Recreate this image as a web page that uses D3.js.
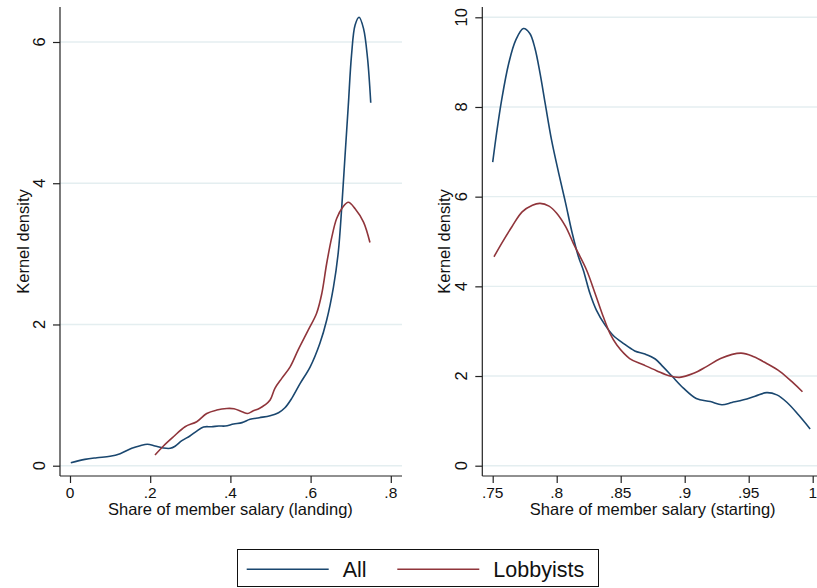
<!DOCTYPE html>
<html>
<head>
<meta charset="utf-8">
<script src="https://cdn.jsdelivr.net/npm/d3@7"></script>
<style>
  html, body { margin: 0; padding: 0; background: #fff; }
  svg { display: block; font-family: "Liberation Sans", Arial, Helvetica, sans-serif; }
</style>
</head>
<body>
<svg id="chart" width="817" height="588"></svg>
<script>
// Kernel density estimates: share of member salary (landing)
const landingAllX = [0.002, 0.037, 0.067, 0.1, 0.125, 0.154, 0.175, 0.193, 0.212, 0.233, 0.25, 0.262, 0.279, 0.299, 0.316, 0.333, 0.353, 0.371, 0.387, 0.408, 0.429, 0.449, 0.472, 0.499, 0.52, 0.536, 0.553, 0.574, 0.599, 0.623, 0.64, 0.657, 0.669, 0.678, 0.686, 0.694, 0.702, 0.711, 0.721, 0.732, 0.742, 0.75];
const landingAllY = [0.042, 0.09, 0.113, 0.133, 0.17, 0.246, 0.283, 0.303, 0.279, 0.25, 0.246, 0.275, 0.354, 0.42, 0.49, 0.548, 0.552, 0.562, 0.562, 0.59, 0.61, 0.657, 0.68, 0.708, 0.75, 0.82, 0.954, 1.166, 1.4, 1.73, 2.06, 2.53, 3.02, 3.69, 4.4, 5.1, 5.81, 6.24, 6.35, 6.19, 5.77, 5.14];
const landingLobX = [0.212, 0.233, 0.258, 0.287, 0.316, 0.341, 0.366, 0.391, 0.409, 0.429, 0.443, 0.456, 0.472, 0.486, 0.499, 0.511, 0.528, 0.549, 0.569, 0.594, 0.615, 0.628, 0.64, 0.653, 0.665, 0.68, 0.694, 0.711, 0.732, 0.748];
const landingLobY = [0.151, 0.279, 0.41, 0.552, 0.623, 0.74, 0.788, 0.81, 0.806, 0.764, 0.74, 0.774, 0.81, 0.86, 0.93, 1.095, 1.237, 1.4, 1.64, 1.92, 2.16, 2.44, 2.86, 3.24, 3.5, 3.66, 3.73, 3.64, 3.45, 3.16];

// Kernel density estimates: share of member salary (starting)
const startingAllX = [0.75, 0.753, 0.757, 0.7625, 0.768, 0.774, 0.779, 0.783, 0.787, 0.791, 0.796, 0.8016, 0.807, 0.812, 0.817, 0.8208, 0.826, 0.831, 0.8377, 0.844, 0.852, 0.861, 0.869, 0.877, 0.883, 0.89, 0.899, 0.909, 0.92, 0.929, 0.937, 0.946, 0.955, 0.964, 0.972, 0.98, 0.989, 0.998];
const startingAllY = [6.77, 7.41, 8.16, 8.97, 9.49, 9.75, 9.64, 9.31, 8.75, 8.08, 7.26, 6.52, 5.85, 5.2, 4.66, 4.36, 3.84, 3.47, 3.14, 2.91, 2.73, 2.56, 2.49, 2.38, 2.21, 2.0, 1.73, 1.5, 1.43, 1.36, 1.41, 1.47, 1.55, 1.63, 1.58, 1.41, 1.13, 0.82];
const startingLobX = [0.751, 0.757, 0.765, 0.773, 0.781, 0.787, 0.794, 0.8, 0.807, 0.813, 0.8234, 0.83, 0.8364, 0.8416, 0.847, 0.857, 0.8677, 0.878, 0.8885, 0.896, 0.907, 0.917, 0.928, 0.944, 0.954, 0.964, 0.9745, 0.985, 0.992];
const startingLobY = [4.66, 4.96, 5.33, 5.66, 5.81, 5.85, 5.79, 5.63, 5.33, 4.96, 4.36, 3.84, 3.32, 2.95, 2.69, 2.39, 2.25, 2.12, 2.0, 1.97, 2.06, 2.21, 2.39, 2.51, 2.43, 2.28, 2.1, 1.84, 1.65];

// Axis ticks
const landingXTicks = [0, 0.2, 0.4, 0.6, 0.8];
const landingYTicks = [0, 2, 4, 6];
const startingXTicks = [0.75, 0.8, 0.85, 0.9, 0.95, 1];
const startingYTicks = [0, 2, 4, 6, 8, 10];

const seriesNames = ["All", "Lobbyists"];
const seriesColors = ["#1a476f", "#90353b"];

const svg = d3.select("#chart");
const fmtTick = v => v === 0 ? "0" : (v === 1 ? "1" : d3.format(".2~f")(v).replace(/^0/, ""));

function panel(cfg) {
  const g = svg.append("g");
  const x = d3.scaleLinear().domain(cfg.xDomain).range(cfg.xRange);
  const y = d3.scaleLinear().domain(cfg.yDomain).range(cfg.yRange);
  const [left, right] = cfg.plotX;
  const [top, bottom] = cfg.plotY;

  // horizontal gridlines
  g.append("g").selectAll("line").data(cfg.yTicks).join("line")
    .attr("x1", left).attr("x2", right)
    .attr("y1", d => y(d)).attr("y2", d => y(d))
    .attr("stroke", "#e4eef0").attr("stroke-width", 1.4);

  // y axis
  const ya = g.append("g").attr("transform", `translate(${left},0)`)
    .call(d3.axisLeft(y).tickValues(cfg.yTicks).tickSize(7).tickFormat(""));
  ya.select(".domain").attr("d", `M0,${top}V${bottom}`);
  ya.selectAll("path, line").attr("stroke", "#222").attr("stroke-width", 1.2);
  g.append("g").selectAll("text").data(cfg.yTicks).join("text")
    .attr("transform", d => `translate(${left - 15},${y(d)}) rotate(-90)`)
    .attr("text-anchor", "middle")
    .attr("font-size", 16.5).attr("fill", "#111")
    .text(d => d);

  // x axis
  const xa = g.append("g").attr("transform", `translate(0,${bottom})`)
    .call(d3.axisBottom(x).tickValues(cfg.xTicks).tickSize(7).tickFormat(""));
  xa.select(".domain").attr("d", `M${left},0H${right}`);
  xa.selectAll("path, line").attr("stroke", "#222").attr("stroke-width", 1.2);
  g.append("g").selectAll("text").data(cfg.xTicks).join("text")
    .attr("x", d => x(d)).attr("y", bottom + 22)
    .attr("text-anchor", "middle")
    .attr("font-size", 15.5).attr("fill", "#111")
    .text(fmtTick);

  // axis titles
  g.append("text")
    .attr("x", x((cfg.xDomain[0] + cfg.xDomain[1]) / 2)).attr("y", bottom + 39)
    .attr("text-anchor", "middle").attr("font-size", 16.5).attr("fill", "#111")
    .text(cfg.xTitle);
  g.append("text")
    .attr("transform", `translate(${cfg.yTitleX},${(top + bottom) / 2}) rotate(-90)`)
    .attr("text-anchor", "middle").attr("font-size", 16.5).attr("fill", "#111")
    .text("Kernel density");

  // density curves
  const line = d3.line().x(d => x(d[0])).y(d => y(d[1])).curve(d3.curveCatmullRom.alpha(0.5));
  cfg.series.forEach((s, i) => {
    g.append("path")
      .datum(d3.zip(s[0], s[1]))
      .attr("d", line)
      .attr("fill", "none")
      .attr("stroke", seriesColors[i])
      .attr("stroke-width", 1.6)
      .attr("stroke-linejoin", "round");
  });
}

panel({
  xDomain: [0, 0.8], xRange: [70, 390.8],
  yDomain: [0, 6], yRange: [465.7, 42],
  plotX: [60, 402], plotY: [7, 476],
  xTicks: landingXTicks, yTicks: landingYTicks,
  xTitle: "Share of member salary (landing)",
  yTitleX: 29,
  series: [[landingAllX, landingAllY], [landingLobX, landingLobY]]
});

panel({
  xDomain: [0.75, 1], xRange: [492.7, 812.7],
  yDomain: [0, 10], yRange: [465.7, 17.3],
  plotX: [482.3, 817], plotY: [7, 476],
  xTicks: startingXTicks, yTicks: startingYTicks,
  xTitle: "Share of member salary (starting)",
  yTitleX: 449.5,
  series: [[startingAllX, startingAllY], [startingLobX, startingLobY]]
});

// legend
const legend = svg.append("g");
legend.append("rect")
  .attr("x", 237.5).attr("y", 549.5).attr("width", 361).attr("height", 37)
  .attr("fill", "#fff").attr("stroke", "#111").attr("stroke-width", 1);
const legendLineX = [246.7, 397.3];
seriesNames.forEach((name, i) => {
  legend.append("line")
    .attr("x1", legendLineX[i]).attr("x2", legendLineX[i] + 82)
    .attr("y1", 569.3).attr("y2", 569.3)
    .attr("stroke", seriesColors[i]).attr("stroke-width", 1.6);
  legend.append("text")
    .attr("x", legendLineX[i] + 96).attr("y", 576.8)
    .attr("font-size", 21.5).attr("fill", "#111")
    .text(name);
});
</script>
</body>
</html>
